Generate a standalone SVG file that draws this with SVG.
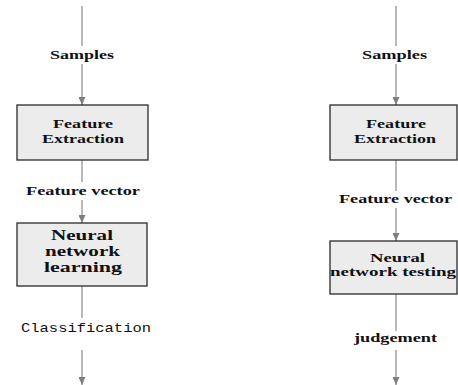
<svg xmlns="http://www.w3.org/2000/svg" width="458" height="385" viewBox="0 0 458 385">
<defs>
<marker id="ah" markerWidth="8" markerHeight="7" refX="8" refY="3.5" orient="auto" markerUnits="userSpaceOnUse">
<path d="M0,0 L8,3.5 L0,7 z" fill="#7f7f7f"/>
</marker>
<style>
.ln{stroke:#8a8a8a;stroke-width:1.2;fill:none}
.box{fill:#ececec;stroke:#2a2a2a;stroke-width:1.3}
.t{font-family:"Liberation Serif","Times New Roman",serif;font-weight:bold;font-size:13px;fill:#111}
.tb{font-family:"Liberation Serif","Times New Roman",serif;font-weight:bold;font-size:14.5px;fill:#111}
.m{font-family:"Liberation Mono","Courier New",monospace;font-size:13.5px;fill:#111}
</style>
</defs>
<rect width="458" height="385" fill="#fff"/>
<g id="connectors">
<line class="ln" x1="82" y1="6" x2="82" y2="46"/>
<line class="ln" x1="82" y1="64" x2="82" y2="105" marker-end="url(#ah)"/>
<line class="ln" x1="82" y1="160" x2="82" y2="182"/>
<line class="ln" x1="82" y1="200" x2="82" y2="223" marker-end="url(#ah)"/>
<line class="ln" x1="82" y1="286" x2="82" y2="318"/>
<line class="ln" x1="82" y1="350" x2="82" y2="385" marker-end="url(#ah)"/>
<line class="ln" x1="396" y1="6" x2="396" y2="46"/>
<line class="ln" x1="396" y1="64" x2="396" y2="105" marker-end="url(#ah)"/>
<line class="ln" x1="396" y1="160" x2="396" y2="191"/>
<line class="ln" x1="396" y1="208" x2="396" y2="241" marker-end="url(#ah)"/>
<line class="ln" x1="396" y1="294" x2="396" y2="331"/>
<line class="ln" x1="396" y1="350" x2="396" y2="385" marker-end="url(#ah)"/>
</g>
<g id="samples-left"><text class="t" x="50" y="59" textLength="64" lengthAdjust="spacingAndGlyphs">Samples</text></g>
<g id="feature-extraction-left">
<rect class="box" x="17" y="105" width="131" height="55"/>
<text class="t" x="53" y="128" textLength="60" lengthAdjust="spacingAndGlyphs">Feature</text>
<text class="t" x="42" y="143" textLength="82" lengthAdjust="spacingAndGlyphs">Extraction</text>
</g>
<g id="feature-vector-left"><text class="t" x="26" y="195" textLength="114" lengthAdjust="spacingAndGlyphs">Feature vector</text></g>
<g id="nn-learning">
<rect class="box" x="17" y="223" width="130" height="63"/>
<text class="tb" x="51" y="240" textLength="62" lengthAdjust="spacingAndGlyphs">Neural</text>
<text class="tb" x="45" y="256" textLength="75" lengthAdjust="spacingAndGlyphs">network</text>
<text class="tb" x="44" y="272" textLength="78" lengthAdjust="spacingAndGlyphs">learning</text>
</g>
<g id="classification"><text class="m" x="21" y="332" textLength="130" lengthAdjust="spacingAndGlyphs">Classification</text></g>
<g id="samples-right"><text class="t" x="362" y="59" textLength="65" lengthAdjust="spacingAndGlyphs">Samples</text></g>
<g id="feature-extraction-right">
<rect class="box" x="330" y="105" width="127" height="55"/>
<text class="t" x="366" y="128" textLength="60" lengthAdjust="spacingAndGlyphs">Feature</text>
<text class="t" x="354" y="143" textLength="82" lengthAdjust="spacingAndGlyphs">Extraction</text>
</g>
<g id="feature-vector-right"><text class="t" x="339" y="203" textLength="113" lengthAdjust="spacingAndGlyphs">Feature vector</text></g>
<g id="nn-testing">
<rect class="box" x="330" y="241" width="127" height="53"/>
<text class="t" x="370" y="262" textLength="55" lengthAdjust="spacingAndGlyphs">Neural</text>
<text class="t" x="330" y="276" textLength="126" lengthAdjust="spacingAndGlyphs">network testing</text>
</g>
<g id="judgement"><text class="t" x="354" y="342" textLength="83" lengthAdjust="spacingAndGlyphs">judgement</text></g>
</svg>
